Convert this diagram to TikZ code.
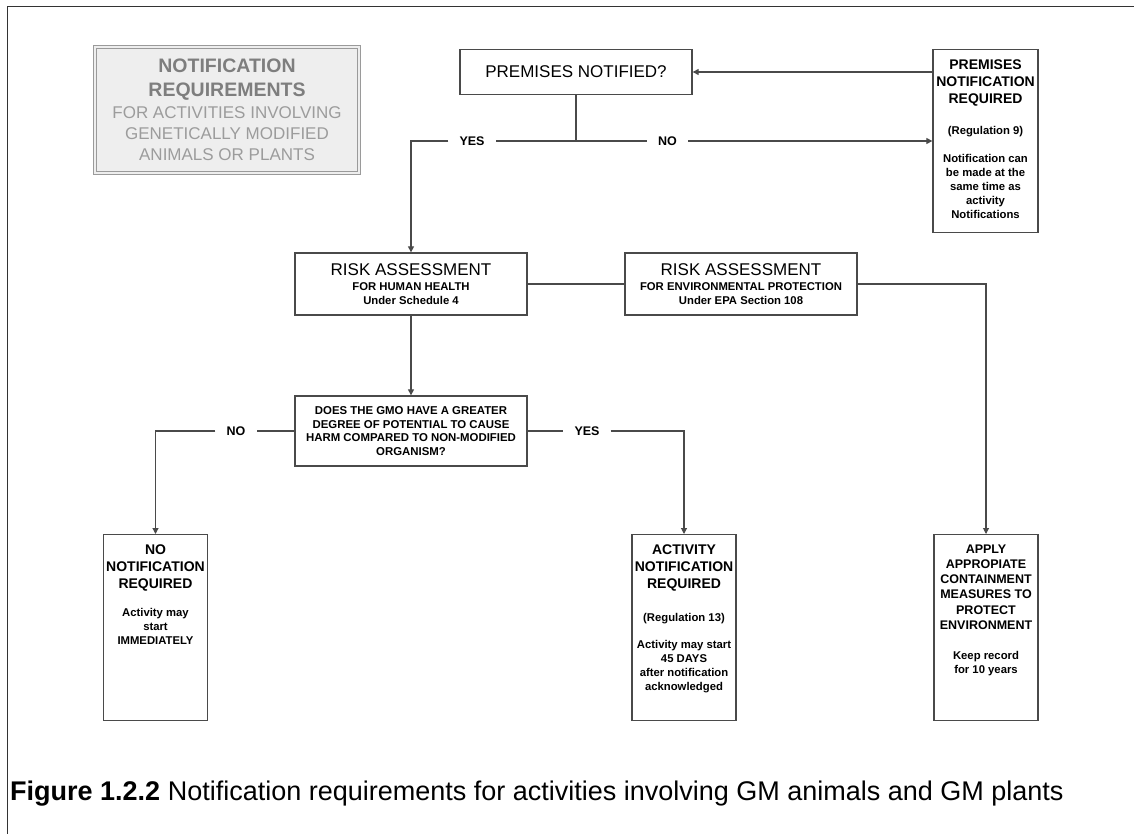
\documentclass[tikz,border=0pt]{standalone}
\usepackage{fontspec}
\setmainfont{Liberation Sans}
\usetikzlibrary{arrows.meta}
\definecolor{boxline}{HTML}{4A4A4A}
\definecolor{titleline}{HTML}{9A9A9A}
\definecolor{titlefill}{HTML}{EEEEEE}
\definecolor{titledark}{HTML}{7E7E7E}
\definecolor{titlelight}{HTML}{9C9C9C}
\newcommand{\bigline}{\fontsize{14}{17}\selectfont\bfseries}
\newcommand{\smallline}{\fontsize{11.3}{14}\selectfont\bfseries}
\newcommand{\toptext}[2]{\begin{minipage}[c][#1][t]{100pt}\centering #2\end{minipage}}

\begin{document}
\begin{tikzpicture}[x=1pt,y=-1pt,
  box/.style={draw=boxline,line width=1.3pt,fill=white,inner sep=0pt,align=center},
  tallbox/.style={box,anchor=north,minimum width=104pt,inner xsep=2pt,inner ysep=10pt},
  widebox/.style={box,minimum width=232pt,minimum height=62pt},
  link/.style={draw=boxline,line width=1.1pt},
  arr/.style={link,-{Triangle[length=6pt,width=6pt]}},
  answer/.style={inner xsep=11pt,inner ysep=2pt,font=\fontsize{12.5}{14}\selectfont\bfseries}]
\useasboundingbox (0,0) rectangle (1134,834);
\draw[line width=1pt,black!80] (1134,7) -- (7,7) -- (7,834);

\node[draw=titleline,double=titlefill,double distance=1.6pt,line width=0.9pt,fill=titlefill,
  minimum width=264pt,minimum height=126pt,inner sep=0pt] (title) at (227,110)
  {\begin{minipage}{250pt}\centering
   {\fontsize{19.5}{24.5}\selectfont\bfseries\color{titledark}NOTIFICATION\\ REQUIREMENTS\par}\vspace{1pt}
   {\fontsize{17}{21}\selectfont\color{titlelight}FOR ACTIVITIES INVOLVING\\ GENETICALLY MODIFIED\\ ANIMALS OR PLANTS\par}
   \end{minipage}};

\node[box,minimum width=232pt,minimum height=45pt,font=\fontsize{17}{20}\selectfont] (notified) at (576,72) {PREMISES NOTIFIED?};

\node[tallbox,minimum width=105pt] (premreq) at (985.5,49)
  {\toptext{163pt}{{\bigline PREMISES\\ NOTIFICATION\\ REQUIRED\par}\vspace{17pt}
   {\smallline (Regulation 9)\par}\vspace{14pt}
   {\smallline Notification can\\ be made at the\\ same time as\\ activity\\ Notifications\par}}};

\node[widebox] (health) at (411,284)
  {\begin{minipage}{228pt}\centering{\fontsize{17}{17}\selectfont RISK ASSESSMENT\par}\vspace{1pt}
   {\smallline FOR HUMAN HEALTH\\ Under Schedule 4\par}\end{minipage}};
\node[widebox] (environ) at (741,284)
  {\begin{minipage}{228pt}\centering{\fontsize{17}{17}\selectfont RISK ASSESSMENT\par}\vspace{1pt}
   {\smallline FOR ENVIRONMENTAL PROTECTION\\ Under EPA Section 108\par}\end{minipage}};

\node[box,minimum width=232pt,minimum height=70pt,font=\fontsize{11.4}{13.6}\selectfont\bfseries] (harm) at (411,431)
  {DOES THE GMO HAVE A GREATER\\ DEGREE OF POTENTIAL TO CAUSE\\ HARM COMPARED TO NON-MODIFIED\\ ORGANISM?};

\node[tallbox,minimum width=103pt] (nonotif) at (155.5,534)
  {\toptext{166pt}{{\bigline NO\\ NOTIFICATION\\ REQUIRED\par}\vspace{14pt}
   {\smallline Activity may\\ start\\ IMMEDIATELY\par}}};
\node[tallbox] (actnotif) at (684,534)
  {\toptext{166pt}{{\bigline ACTIVITY\\ NOTIFICATION\\ REQUIRED\par}\vspace{19pt}
   {\smallline (Regulation 13)\par}\vspace{13pt}
   {\smallline Activity may start\\ 45 DAYS\\ after notification\\ acknowledged\par}}};
\node[tallbox] (contain) at (986,534)
  {\toptext{166pt}{{\fontsize{12.5}{15.2}\selectfont\bfseries APPLY\\ APPROPIATE\\ CONTAINMENT\\ MEASURES TO\\ PROTECT\\ ENVIRONMENT\par}\vspace{16pt}
   {\smallline Keep record\\ for 10 years\par}}};

\node[answer] (yestop) at (472,141) {YES};
\node[answer] (notop) at (667.5,141) {NO};
\node[answer] (nolow) at (236,431) {NO};
\node[answer] (yeslow) at (587,431) {YES};
\coordinate (split) at (576,141);

\draw[arr] (premreq.west |- notified.east) -- (notified.east);
\draw[link] (notified.south) -- (split);
\draw[link] (split) -- (yestop);
\draw[arr] (yestop) -| (health.north);
\draw[link] (split) -- (notop);
\draw[arr] (notop) -- (premreq.west |- notop);
\draw[link] (health.east) -- (environ.west);
\draw[arr] (environ.east) -| (contain.north);
\draw[arr] (health.south) -- (harm.north);
\draw[link] (harm.west) -- (nolow);
\draw[arr] (nolow) -| (nonotif.north);
\draw[link] (harm.east) -- (yeslow);
\draw[arr] (yeslow) -| (actnotif.north);

\node[anchor=base west,inner sep=0pt,font=\fontsize{27}{30}\selectfont] (caption) at (10,800)
  {\textbf{Figure 1.2.2} Notification requirements for activities involving GM animals and GM plants};
\end{tikzpicture}
\end{document}
